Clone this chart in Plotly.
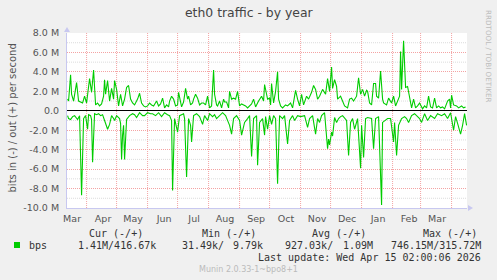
import pandas as pd
import plotly.graph_objects as go

# ---------------- data ----------------
start_date = "2025-03-13"
x_range = ["2025-03-12 10:00", "2026-04-16 10:00"]

out_day = [0, 1, 3, 4, 6, 7, 9, 11, 13, 15, 17, 19, 22, 24, 26, 28, 30, 32, 34, 36, 37, 38, 40, 42, 44, 46, 47, 49,
           51, 53, 55, 57, 59, 61, 63, 65, 67, 70, 72, 74, 76, 78, 80, 82, 84, 86, 89, 91, 93, 95, 97, 99, 101, 102,
           104, 106, 108, 110, 111, 113, 114, 116, 118, 120, 121, 123, 125, 126, 128, 130, 132, 134, 136, 138, 140,
           142, 144, 146, 147, 149, 150, 152, 154, 156, 157, 159, 161, 162, 164, 166, 168, 170, 172, 174, 176, 178,
           180, 182, 184, 186, 188, 191, 193, 194, 196, 197, 199, 200, 202, 203, 204, 206, 208, 210, 211, 213, 215,
           218, 220, 223, 225, 228, 230, 232, 234, 236, 239, 241, 244, 246, 248, 250, 252, 255, 258, 260, 262, 264,
           265, 267, 269, 270, 273, 275, 277, 280, 282, 284, 286, 289, 291, 293, 295, 297, 299, 300, 302, 304, 306,
           308, 309, 311, 313, 315, 316, 319, 321, 324, 326, 328, 330, 332, 333, 334, 336, 337, 338, 340, 342, 343,
           344, 346, 348, 350, 352, 355, 357, 359, 361, 363, 365, 367, 369, 371, 373, 375, 377, 380, 382, 383, 384,
           386, 389, 391, 394, 396, 398]
out_mbps = [1.2, 1.0, 3.7, 1.7, 1.0, 1.8, 2.9, 1.0, 0.9, 0.8, 1.5, 0.8, 3.3, 1.9, 4.2, 0.6, 0.8, 0.5, 0.7, 1.5, 3.2,
            1.7, 3.1, 1.0, 2.3, 1.2, 3.1, 2.2, 0.5, 1.7, 0.5, 1.2, 2.4, 2.6, 1.2, 0.8, 0.6, 1.2, 1.8, 0.8, 0.5, 0.4,
            0.5, 0.8, 0.6, 0.5, 1.0, 0.5, 0.7, 1.3, 0.3, 0.6, 0.4, 1.0, 1.5, 1.2, 0.5, 0.6, 1.9, 0.8, 0.4, 0.9, 2.3,
            1.2, 1.5, 0.6, 0.8, 1.2, 1.7, 1.3, 0.6, 0.8, 0.8, 0.6, 1.5, 0.3, 0.5, 4.2, 1.7, 0.6, 0.5, 1.0, 0.3, 1.2,
            0.9, 0.9, 0.3, 2.0, 1.2, 1.3, 1.2, 2.0, 0.5, 0.7, 0.6, 0.5, 0.3, 0.5, 0.7, 1.2, 0.4, 1.0, 1.4, 1.5, 1.0,
            2.7, 1.7, 1.2, 1.3, 0.6, 2.8, 0.8, 2.0, 4.0, 1.2, 0.5, 0.3, 0.6, 0.5, 0.8, 0.3, 2.1, 1.2, 0.5, 1.7, 0.6,
            1.5, 1.2, 1.9, 2.6, 2.2, 1.2, 1.5, 2.2, 1.7, 3.3, 2.0, 4.5, 2.3, 3.2, 2.5, 1.2, 1.5, 1.0, 0.5, 0.3, 1.2,
            1.3, 1.0, 1.5, 3.4, 1.7, 2.2, 1.5, 2.1, 2.0, 0.8, 0.6, 2.8, 2.8, 1.5, 1.3, 4.1, 1.2, 0.8, 0.6, 1.3, 0.8,
            1.5, 0.5, 1.0, 1.5, 6.1, 2.2, 7.2, 3.5, 2.4, 2.5, 1.2, 0.6, 0.3, 1.2, 0.3, 0.5, 0.8, 0.2, 0.5, 0.3, 1.5,
            0.4, 0.3, 1.3, 0.3, 0.5, 0.3, 0.4, 0.2, 1.0, 1.2, 0.3, 1.6, 0.6, 0.5, 0.3, 0.5, 0.3, 0.4]

in_day = [0, 1, 3, 5, 7, 9, 10, 12, 14, 16, 18, 20, 21, 23, 24, 25, 27, 29, 31, 33, 35, 37, 40, 42, 44, 46, 47, 49,
          52, 53, 54, 55, 56, 57, 59, 62, 65, 67, 69, 72, 75, 77, 80, 83, 85, 88, 91, 94, 97, 100, 102, 104, 105,
          107, 110, 112, 114, 116, 117, 119, 121, 123, 124, 126, 129, 132, 135, 137, 140, 142, 145, 147, 149, 152,
          155, 158, 159, 162, 164, 166, 169, 172, 174, 177, 180, 182, 184, 186, 189, 190, 192, 195, 197, 198, 200,
          202, 204, 206, 208, 210, 212, 215, 217, 220, 222, 225, 227, 230, 233, 237, 240, 242, 245, 248, 250, 252,
          254, 257, 260, 261, 262, 264, 265, 267, 269, 271, 273, 275, 279, 281, 283, 285, 287, 290, 293, 294, 296,
          298, 300, 304, 306, 308, 311, 314, 315, 317, 320, 323, 326, 327, 329, 331, 334, 337, 339, 341, 344, 347,
          350, 352, 354, 357, 360, 363, 367, 370, 374, 377, 380, 383, 386, 388, 390, 393, 395, 397, 399]
in_mbps = [-0.5, -0.8, -0.9, -0.6, -0.5, -0.7, -0.9, -0.5, -8.7, -0.8, -0.5, -1.9, -0.4, -0.5, -0.9, -5.3, -0.3,
           -0.4, -0.3, -0.5, -0.4, -1.0, -1.9, -1.4, -0.5, -0.8, -1.0, -0.5, -0.8, -1.3, -5.0, -2.5, -1.5, -5.0,
           -0.9, -0.5, -0.3, -0.4, -0.7, -0.2, -0.5, -0.5, -0.2, -0.3, -0.3, -0.5, -0.2, -0.6, -0.2, -0.4, -0.5,
           -1.0, -8.2, -0.8, -2.2, -0.5, -0.4, -0.3, -0.8, -6.8, -0.8, -1.5, -3.2, -0.5, -0.3, -0.6, -1.4, -0.5,
           -1.0, -0.3, -0.6, -0.4, -0.8, -0.5, -0.2, -0.5, -0.8, -1.5, -2.4, -0.8, -0.5, -1.0, -2.5, -1.2, -0.8,
           -0.5, -4.7, -0.8, -0.5, -5.6, -1.2, -0.8, -2.5, -0.6, -1.9, -0.5, -1.4, -0.5, -0.8, -7.5, -0.5, -0.8,
           -0.5, -3.4, -1.0, -0.5, -1.0, -0.5, -0.6, -0.5, -1.7, -0.8, -0.5, -2.4, -0.8, -1.2, -0.5, -0.2, -3.9,
           -2.9, -3.5, -2.2, -2.6, -0.7, -1.2, -0.8, -0.6, -0.5, -1.0, -4.6, -1.2, -0.8, -1.9, -0.8, -5.9, -1.5,
           -4.8, -0.8, -0.7, -0.8, -3.9, -0.8, -0.6, -9.7, -1.2, -1.0, -0.8, -0.8, -3.2, -1.2, -4.6, -1.5, -0.8,
           -0.6, -0.8, -1.2, -0.5, -0.3, -0.6, -0.8, -1.2, -0.3, -1.0, -0.5, -0.8, -0.3, -0.5, -0.3, -0.8, -0.2,
           -2.0, -0.6, -1.3, -2.4, -1.5, -0.3, -1.5]

ytick_m = [8, 6, 4, 2, 0, -2, -4, -6, -8, -10]
ytick_text = ["8.0 M", "6.0 M", "4.0 M", "2.0 M", "0.0", "-2.0 M", "-4.0 M", "-6.0 M", "-8.0 M", "-10.0 M"]
yminor_m = [7, 5, 3, 1, -1, -3, -5, -7, -9]
month_labels = ["Mar", "Apr", "May", "Jun", "Jul", "Aug", "Sep", "Oct", "Nov", "Dec", "Jan", "Feb", "Mar"]

legend_headers = ["Cur (-/+)", "Min (-/+)", "Avg (-/+)", "Max (-/+)"]
series_name = "bps"
cur_txt = "1.41M/416.67k"
min_in, min_out = "31.49k/", "9.79k"
avg_in, avg_out = "927.03k/", "1.09M"
max_txt = "746.15M/315.72M"
last_update = "Last update: Wed Apr 15 02:00:06 2026"
footer = "Munin 2.0.33-1~bpo8+1"
side_text = "RRDTOOL / TOBI OETIKER"
title_text = "eth0 traffic - by year"

# ---------------- build ----------------
start = pd.Timestamp(start_date)
out_x = start + pd.to_timedelta(out_day, unit="D")
in_x = start + pd.to_timedelta(in_day, unit="D")
tick_mid = pd.date_range("2025-03-17 12:00", periods=len(month_labels), freq=pd.DateOffset(months=1))
month_starts = pd.date_range("2025-04-01", "2026-04-01", freq="MS")

GREEN = "#00CC00"
W, H = 497, 280
L, R, T, B = 67, 30, 33, 72
PW, PH = W - L - R, H - T - B


def px(x):
    return (x - L) / PW


def py(y):
    return (T + PH - y) / PH


fig = go.Figure()
fig.add_trace(go.Scatter(x=in_x, y=[v * 1e6 for v in in_mbps], mode="lines",
                         line=dict(color=GREEN, width=1.1), hoverinfo="skip", showlegend=False))
fig.add_trace(go.Scatter(x=out_x, y=[v * 1e6 for v in out_mbps], mode="lines",
                         line=dict(color=GREEN, width=1.1), hoverinfo="skip", showlegend=False))

RED_GRID = "#F4A3A3"
GRAY_GRID = "#DCDCDC"
AXIS_C = "#C8C8F0"

shapes = []
for v in yminor_m:
    shapes.append(dict(type="line", xref="paper", yref="y", x0=0, x1=1, y0=v * 1e6, y1=v * 1e6,
                       line=dict(color=GRAY_GRID, width=1, dash="1px,1px"), layer="below"))
for d in month_starts:
    shapes.append(dict(type="line", xref="x", yref="paper", x0=d, x1=d, y0=0, y1=1,
                       line=dict(color=RED_GRID, width=1, dash="1px,1px"), layer="below"))
# axis arrows
shapes.append(dict(type="path", xref="paper", yref="paper", xsizemode="pixel", ysizemode="pixel",
                   xanchor=0, yanchor=1, path="M -3,1 L 3,1 L 0,6 Z",
                   fillcolor=AXIS_C, line=dict(width=0)))
shapes.append(dict(type="path", xref="paper", yref="paper", xsizemode="pixel", ysizemode="pixel",
                   xanchor=1, yanchor=0, path="M 1,-3 L 1,3 L 6,0 Z",
                   fillcolor=AXIS_C, line=dict(width=0)))
# legend swatch
shapes.append(dict(type="rect", xref="paper", yref="paper", x0=px(14), x1=px(20), y0=py(248), y1=py(242),
                   fillcolor=GREEN, line=dict(width=0)))

MONO = "DejaVu Sans Mono"
SANS = "DejaVu Sans"
annotations = []


def ann(text, x, y, xanchor="center", size=10, color="#333333", family=MONO, angle=0):
    annotations.append(dict(text=text, x=px(x), y=py(y), xref="paper", yref="paper", showarrow=False,
                            xanchor=xanchor, yanchor="middle", textangle=angle,
                            font=dict(family=family, size=size, color=color)))


ann(title_text, 249, 13, size=12.4, color="#444444", family=SANS)
ann("bits in (-) / out (+) per second", 11.5, 118, size=10, color="#555555", family=SANS, angle=-90)
ann(side_text, 489, 56, size=7.2, color="#BDBDBD", family=SANS, angle=90)
for text, cx in zip(legend_headers, [116, 229, 339, 450]):
    ann(text, cx, 233)
ann(series_name, 27, 245, xanchor="left")
ann(cur_txt, 158, 245, xanchor="right")
ann(min_in, 180, 245, xanchor="left")
ann(min_out, 265, 245, xanchor="right")
ann(avg_in, 283, 245, xanchor="left")
ann(avg_out, 375, 245, xanchor="right")
ann(max_txt, 483, 245, xanchor="right")
ann(last_update, 483, 257, xanchor="right")
ann(footer, 248, 269, size=8, color="#BBBBBB", family=SANS)

fig.update_layout(
    width=W, height=H,
    margin=dict(l=L, r=R, t=T, b=B, pad=0),
    paper_bgcolor="#F0F0F0", plot_bgcolor="#FFFFFF",
    showlegend=False,
    shapes=shapes, annotations=annotations,
    xaxis=dict(type="date", range=x_range, tickmode="array", tickvals=tick_mid, ticktext=month_labels,
               showgrid=False, zeroline=False, showline=True, linecolor=AXIS_C, linewidth=1,
               ticks="", ticklabelstandoff=2,
               tickfont=dict(family=SANS, size=9.5, color="#555555"), fixedrange=True),
    yaxis=dict(range=[-10e6, 8e6], tickmode="array", tickvals=[v * 1e6 for v in ytick_m], ticktext=ytick_text,
               showgrid=True, gridcolor=RED_GRID, griddash="1px,1px", gridwidth=1,
               zeroline=True, zerolinecolor="#000000", zerolinewidth=1,
               showline=True, linecolor=AXIS_C, linewidth=1,
               ticks="", ticklabelstandoff=5,
               tickfont=dict(family=SANS, size=9.5, color="#555555"), fixedrange=True),
)

fig.write_html("out.html")
